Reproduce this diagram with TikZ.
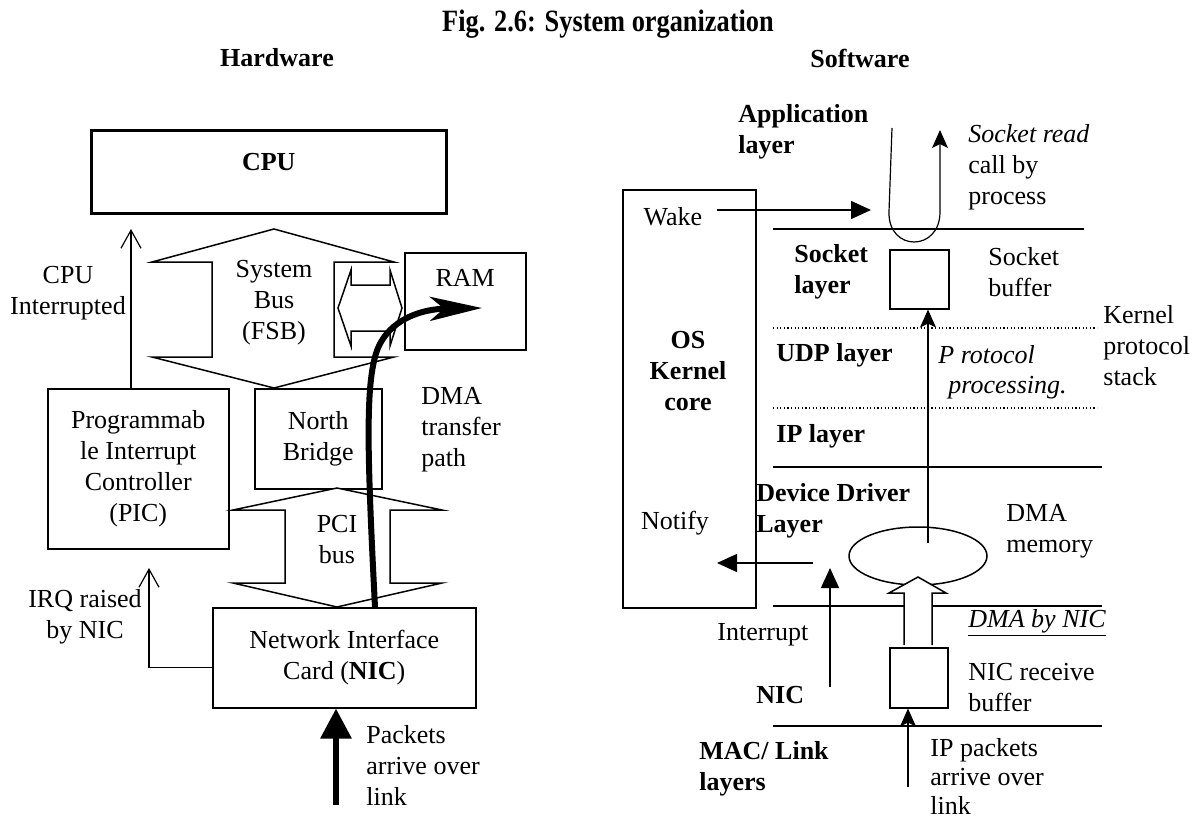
\documentclass[tikz,border=0pt]{standalone}
\usepackage{fontspec}
\setmainfont{Liberation Serif}
\usetikzlibrary{arrows.meta,shapes.geometric,calc}

\begin{document}
\begin{tikzpicture}[x=0.5pt,y=-0.5pt,
   txt/.style={font=\fontsize{13}{15.5}\selectfont,inner sep=0pt,align=center},
   txl/.style={txt,anchor=west,align=left},
   txb/.style={txl,font=\fontsize{13}{15.5}\selectfont\bfseries},
   txi/.style={txl,font=\fontsize{13}{15.5}\selectfont\itshape},
   box/.style={draw,line width=0.75pt,inner sep=0pt,anchor=north west,align=center,font=\fontsize{13}{15.5}\selectfont},
   bus/.style={draw,line width=0.75pt,fill=white},
   opn/.style={-{Straight Barb[length=9pt,width=10pt]},line width=0.6pt},
   tri/.style={-{Triangle[length=10pt,width=9pt]},line width=0.75pt},
   stl/.style={-{Stealth[length=9pt,width=8pt,inset=2pt]},line width=0.6pt},
   lyr/.style={line width=0.75pt},
   dots/.style={line width=0.6pt,dash pattern=on 0.6pt off 1.2pt}]
  \useasboundingbox (0,0) rectangle (1201,825);

  % headings
  \node[txt] (title) at (608,24) {\scalebox{0.85}[1]{\fontsize{15.5}{18}\selectfont\bfseries Fig. 2.6: System organization}};
  \node[txt,font=\fontsize{13}{15.5}\selectfont\bfseries] (hw) at (277,58) {Hardware};
  \node[txt,font=\fontsize{13}{15.5}\selectfont\bfseries] (sw) at (860,58) {Software};

  % hardware side
  \node[box,line width=1.3pt,minimum width=177.5pt,minimum height=41.5pt,text depth=10pt,font=\fontsize{13}{15.5}\selectfont\bfseries] (cpu) at (90,129) {CPU};
  \node[box,minimum width=60.5pt,minimum height=48.5pt,text depth=23pt] (ram) at (404,252) {RAM};
  \node[box,minimum width=90.5pt,minimum height=80pt] (pic) at (47,388) {Programmab\\le Interrupt\\Controller\\(PIC)};
  \node[box,minimum width=63.5pt,minimum height=50pt] (nb) at (254,388) {North\\Bridge};
  \node[box,minimum width=131.5pt,minimum height=50pt] (nic) at (212,607) {Network Interface\\Card (\textbf{NIC})};

  \draw[bus] (274,229) -- (394,262) -- (334,262) -- (334,357) -- (394,357) -- (274,388)
     -- (152,357) -- (212,357) -- (212,262) -- (152,262) -- cycle;
  \node[txt] (fsb) at (274,303) {System\\Bus\\(FSB)};
  \draw[bus] (338,308) -- (351,270) -- (351,285) -- (390,285) -- (390,270) -- (402,308)
     -- (390,346) -- (390,331) -- (351,331) -- (351,346) -- cycle;
  \draw[bus] (337,488) -- (442,510) -- (390,510) -- (390,583) -- (442,583) -- (337,607)
     -- (233,583) -- (285,583) -- (285,510) -- (233,510) -- cycle;
  \node[txt] (pci) at (337,540) {PCI\\bus};

  \coordinate (ci) at (131,229);
  \draw[opn] (ci |- pic.north) -- (ci);
  \node[txt] (cil) at (68,293) {CPU\\Interrupted};
  \coordinate (irq) at (149,568);
  \draw[opn] ([yshift=-5pt]nic.west) -| (irq);
  \node[txt] (irql) at (85,617) {IRQ raised\\by NIC};

  \coordinate (pkt) at (336,805);
  \draw[line width=3pt,-{Triangle[length=15pt,width=15pt]}] (pkt) -- (pkt |- nic.south);
  \node[txl] (pktl) at (366,765) {Packets\\arrive over\\link};

  \coordinate (dmas) at (375,607);
  \coordinate (dmat) at (482,308);
  \draw[line width=3pt,-{Stealth[length=26pt,width=12pt,inset=7pt]}] (dmas)
     .. controls (367,450) and (365,380) .. (378,348)
     .. controls (390,320) and (420,309) .. (dmat);
  \node[txl] (dmal) at (421,430) {DMA\\transfer\\path};

  % software side
  \node[txb] (appl) at (738,132) {Application\\layer};
  \node[box,minimum width=66.5pt,minimum height=209pt] (os) at (622,189) {};
  \node[txt] (wake) at (673,217) {Wake};
  \node[txt,font=\fontsize{13}{15.5}\selectfont\bfseries] (osk) at (688,371) {OS\\Kernel\\core};
  \node[txt] (notify) at (675,523) {Notify};

  \draw[lyr] (773,229) -- (1084,229);
  \draw[dots] (773,328) -- (1097,328);
  \draw[dots] (773,408) -- (1097,408);
  \draw[lyr] (773,467) -- (1102,467);
  \draw[lyr] (773,606) -- (1102,606);
  \draw[lyr] (773,726) -- (1102,726);

  \node[box,minimum width=29.5pt,minimum height=29.5pt] (sbuf) at (889,249) {};
  \node[box,minimum width=29pt,minimum height=30pt] (nbuf) at (889,647) {};
  \node[draw,ellipse,line width=0.75pt,minimum width=69pt,minimum height=29pt,inner sep=0pt] (dmam) at (918,556) {};
  \draw[bus] (904,645) -- (904,593) -- (889,593) -- (918,577) -- (946,593) -- (932,593) -- (932,645);

  \coordinate (wk) at (717,210);
  \coordinate (wkt) at (871,210);
  \draw[tri] (wk) -- (wkt);
  \coordinate (nt) at (813,563);
  \coordinate (ntt) at (717,563);
  \draw[tri] (nt) -- (ntt);
  \coordinate (irs) at (830,687);
  \coordinate (irt) at (830,568);
  \draw[tri] (irs) -- (irt);
  \coordinate (pp) at (928,543);
  \draw[stl] (pp) -- (pp |- sbuf.south);
  \coordinate (ipk) at (908,787);
  \draw[stl] (ipk) -- (ipk |- nbuf.south);
  \coordinate (rd0) at (892,128);
  \coordinate (rd1) at (940,130);
  \draw[stl] (rd0) -- (889,212) .. controls (888,252) and (940,252) .. (940,212) -- (rd1);

  \node[txl] (rdl) at (968,167) {\textit{Socket read}\\call by\\process};
  \node[txb] (sockl) at (794,272) {Socket\\layer};
  \node[txl] (sbufl) at (988,272) {Socket\\buffer};
  \node[txl] (kpsl) at (1103,346) {Kernel\\protocol\\stack};
  \node[txb] (udpl) at (776,355) {UDP layer};
  \node[txi] (prl) at (938,355) {P rotocol};
  \node[txi] (prl2) at (948,388) {processing.};
  \node[txb] (ipl) at (776,436) {IP layer};
  \node[txb] (ddl) at (756,511) {Device Driver\\Layer};
  \node[txl] (dmaml) at (1006,531) {DMA\\memory};
  \node[txl] (intl) at (717,635) {Interrupt};
  \node[txl] (dnicl) at (968,623) {\underline{\textit{DMA by NIC}}};
  \node[txl] (nbufl) at (968,688) {NIC receive\\buffer};
  \node[txb] (nicl) at (756,695) {NIC};
  \node[txb] (macl) at (699,769) {MAC/ Link\\layers};
  \node[txl,font=\fontsize{13}{14.5}\selectfont] (ipkl) at (930,776) {IP packets\\arrive over\\link};
\end{tikzpicture}
\end{document}
